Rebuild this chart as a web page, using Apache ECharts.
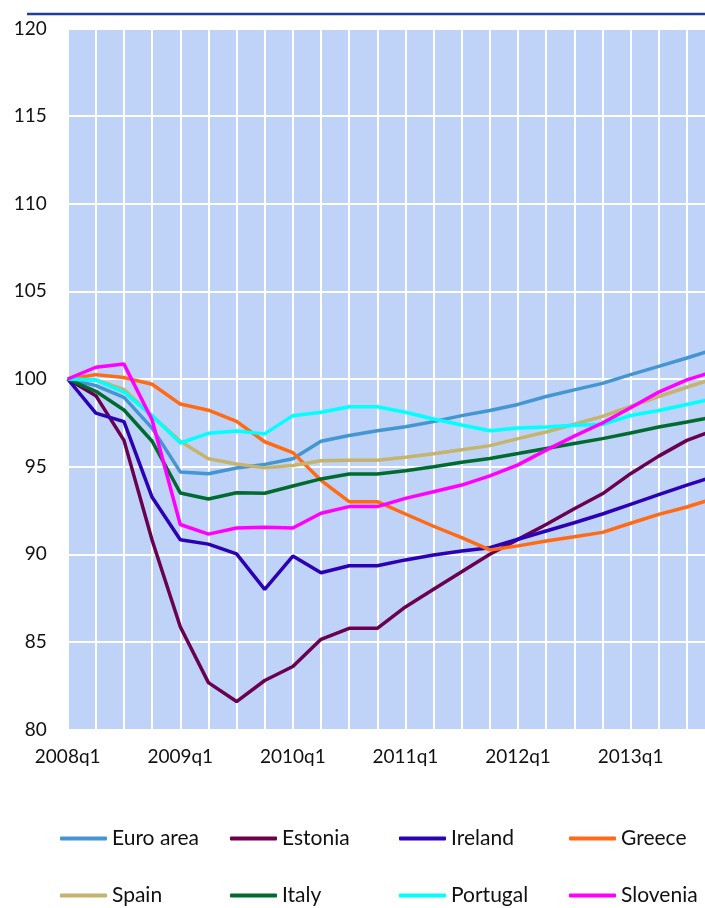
<!DOCTYPE html>
<html>
<head>
<meta charset="utf-8">
<script src="https://cdn.jsdelivr.net/npm/echarts@6/dist/echarts.min.js"></script>
<style>
  html, body { margin: 0; padding: 0; background: #fff; overflow: hidden; }
  /* the last quarter sits just past the right edge of the picture, so the chart is a bit wider than the window */
  #chart { width: 715px; height: 908px; }
</style>
</head>
<body>
<div id="chart"></div>
<script>
// quarterly index, 2008q1 = 100
const quarters = [
  '2008q1', '2008q2', '2008q3', '2008q4', '2009q1', '2009q2', '2009q3', '2009q4',
  '2010q1', '2010q2', '2010q3', '2010q4', '2011q1', '2011q2', '2011q3', '2011q4',
  '2012q1', '2012q2', '2012q3', '2012q4', '2013q1', '2013q2', '2013q3', '2013q4'
]

const euroArea = [100, 99.62, 98.95, 97.2, 94.7, 94.6, 94.92, 95.13, 95.45, 96.45, 96.78, 97.05,
  97.28, 97.57, 97.91, 98.2, 98.55, 99.0, 99.38, 99.75, 100.25, 100.72, 101.2, 101.7]
const estonia = [100, 99.05, 96.5, 90.8, 85.87, 82.68, 81.6, 82.8, 83.6, 85.15, 85.78, 85.78,
  87.0, 88.0, 89.0, 90.0, 90.85, 91.7, 92.6, 93.45, 94.6, 95.6, 96.5, 97.1]
const ireland = [100, 98.05, 97.57, 93.25, 90.83, 90.58, 90.02, 88.0, 89.9, 88.95, 89.35, 89.35,
  89.68, 89.96, 90.19, 90.38, 90.86, 91.33, 91.8, 92.3, 92.85, 93.4, 93.95, 94.45]
const greece = [100, 100.25, 100.08, 99.7, 98.57, 98.22, 97.58, 96.42, 95.8, 94.22, 93.0, 93.0,
  92.3, 91.6, 90.95, 90.25, 90.48, 90.76, 91.0, 91.25, 91.77, 92.28, 92.7, 93.2]
const spain = [100, 99.95, 99.4, 97.9, 96.45, 95.45, 95.15, 94.93, 95.07, 95.34, 95.36, 95.36,
  95.53, 95.73, 95.96, 96.2, 96.6, 96.98, 97.42, 97.87, 98.43, 99.0, 99.53, 100.05]
const italy = [100, 99.3, 98.23, 96.45, 93.5, 93.15, 93.51, 93.48, 93.9, 94.3, 94.58, 94.58,
  94.77, 95.0, 95.25, 95.47, 95.75, 96.04, 96.32, 96.6, 96.92, 97.26, 97.55, 97.85]
const portugal = [100, 99.94, 99.25, 97.9, 96.35, 96.9, 97.03, 96.87, 97.91, 98.1, 98.42, 98.42,
  98.1, 97.72, 97.38, 97.05, 97.2, 97.26, 97.36, 97.4, 97.92, 98.2, 98.55, 98.9]
const slovenia = [100, 100.67, 100.85, 97.66, 91.7, 91.15, 91.5, 91.54, 91.5, 92.34, 92.72, 92.72,
  93.19, 93.57, 93.95, 94.47, 95.1, 95.94, 96.74, 97.49, 98.36, 99.25, 99.95, 100.45]

const names = ['Euro area', 'Estonia', 'Ireland', 'Greece', 'Spain', 'Italy', 'Portugal', 'Slovenia']
const values = [euroArea, estonia, ireland, greece, spain, italy, portugal, slovenia]
const colors = ['#4396d2', '#6a0050', '#2c00b4', '#ff6a13', '#c4b46c', '#006b2f', '#00ffff', '#ff00ff']

const FONT = 'Lato'
const legendLeft = [60, 230, 399, 569]
const legendTop = [828, 885]

const chart = echarts.init(document.getElementById('chart'))

const legends = names.map((name, i) => ({
  data: [name],
  left: legendLeft[i % 4],
  top: legendTop[Math.floor(i / 4)],
  padding: 0,
  icon: 'roundRect',
  itemWidth: 47,
  itemHeight: 4,
  textStyle: { fontFamily: FONT, fontSize: 21, color: '#111' }
}))

chart.setOption({
  animation: false,
  backgroundColor: '#fff',
  graphic: [{
    type: 'line',
    shape: { x1: 27, y1: 14, x2: 715, y2: 14 },
    style: { stroke: '#1f3f9a', lineWidth: 2.5 }
  }],
  legend: legends,
  grid: {
    left: 67.7,
    top: 28.4,
    right: 0,
    height: 701.2,
    show: true,
    backgroundColor: '#bfd2f7',
    borderWidth: 0
  },
  xAxis: {
    type: 'category',
    data: quarters,
    boundaryGap: false,
    axisLine: { show: false },
    axisTick: { show: false },
    axisLabel: {
      interval: 3,
      margin: 18,
      fontFamily: FONT,
      fontSize: 19,
      color: '#111'
    },
    splitLine: { show: true, interval: 0, lineStyle: { color: '#fff', width: 2 } }
  },
  yAxis: {
    type: 'value',
    min: 80,
    max: 120,
    interval: 5,
    axisLine: { show: false },
    axisTick: { show: false },
    axisLabel: { margin: 21, fontFamily: FONT, fontSize: 19, color: '#111' },
    splitLine: { show: true, lineStyle: { color: '#fff', width: 2 } }
  },
  series: names.map((name, i) => ({
    name: name,
    type: 'line',
    data: values[i],
    symbol: 'none',
    color: colors[i],
    lineStyle: { width: 3.5, color: colors[i] }
  }))
})
</script>
</body>
</html>
